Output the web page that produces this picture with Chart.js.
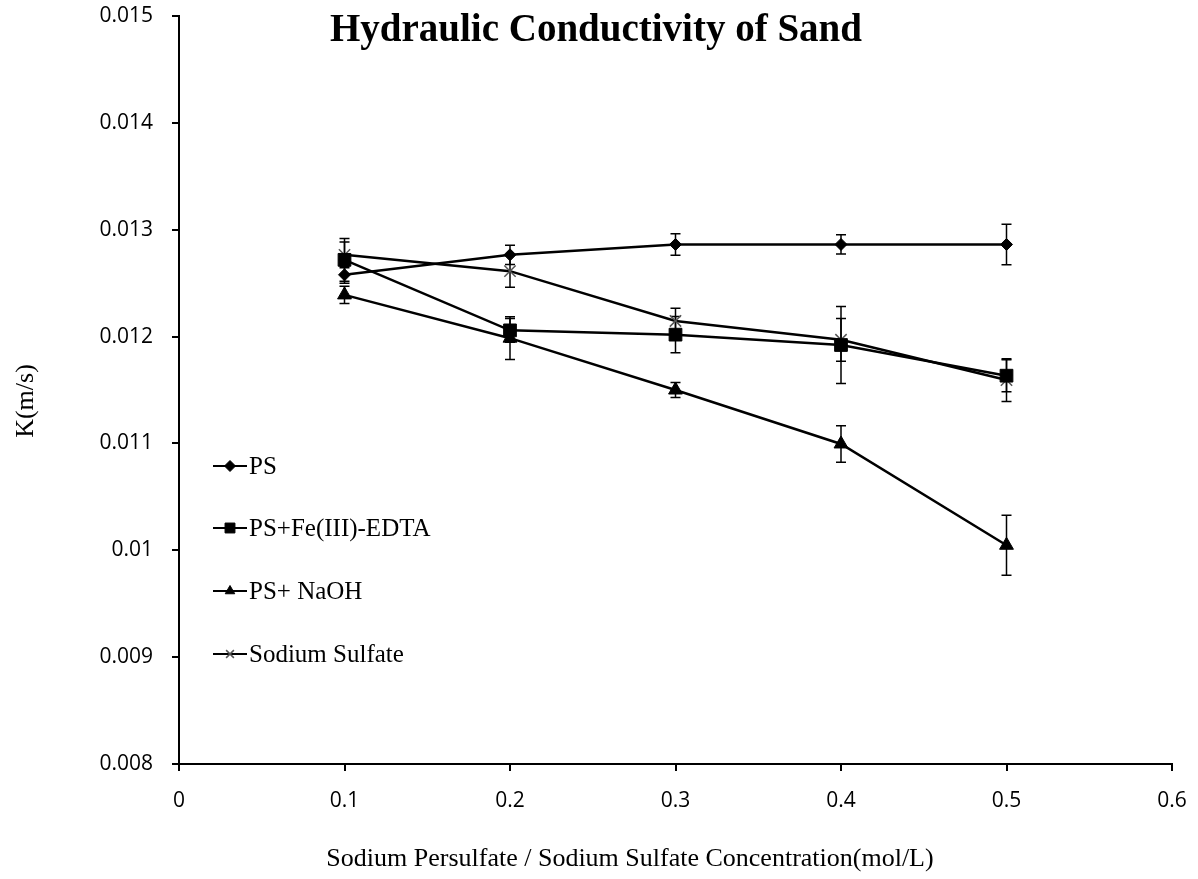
<!DOCTYPE html>
<html>
<head>
<meta charset="utf-8">
<title>Hydraulic Conductivity of Sand</title>
<script src="https://cdn.jsdelivr.net/npm/chart.js@4/dist/chart.umd.min.js"></script>
<style>
  html, body { margin: 0; padding: 0; background: #fff; }
  #wrap { width: 1198px; height: 879px; position: relative; }
</style>
</head>
<body>
<div id="wrap"><canvas id="chart" width="1198" height="879"></canvas></div>
<script>
"use strict";

const concentrations = [0.1, 0.2, 0.3, 0.4, 0.5];
const xTicks = [0, 0.1, 0.2, 0.3, 0.4, 0.5, 0.6];
const yTicks = [0.008, 0.009, 0.01, 0.011, 0.012, 0.013, 0.014, 0.015];

const psValues = [0.012578, 0.012765, 0.012862, 0.012862, 0.012862];
const psErrors = [0.00008, 0.00009, 0.0001, 0.00009, 0.00019];

const feValues = [0.012718, 0.012058, 0.012018, 0.011921, 0.011634];
const feErrors = [0.0002, 0.00011, 0.00017, 0.00036, 0.00015];

const naohValues = [0.01239, 0.011985, 0.0115, 0.010995, 0.010047];
const naohErrors = [0.00008, 0.0002, 0.00007, 0.00017, 0.00028];

const sulfateValues = [0.012765, 0.012612, 0.012146, 0.01197, 0.011593];
const sulfateErrors = [0.00012, 0.00015, 0.00012, 0.0002, 0.0002];

const seriesLabels = ["PS", "PS+Fe(III)-EDTA", "PS+ NaOH", "Sodium Sulfate"];

const serif = "'Liberation Serif', 'Times New Roman', serif";
const sans = "'Open Sans', 'Noto Sans', sans-serif";

function series(label, values, errors, style, radius, color) {
  return {
    label,
    data: concentrations.map((x, i) => ({ x, y: values[i], err: errors[i] })),
    borderColor: "#000",
    borderWidth: 2.5,
    pointStyle: style,
    pointRadius: radius,
    pointHoverRadius: radius,
    pointBackgroundColor: "#000",
    pointBorderColor: color,
    pointBorderWidth: style === "crossRot" ? 1.5 : 1,
    fill: false,
    tension: 0,
  };
}

// vertical error bars with small caps, drawn under the markers
const errorBars = {
  id: "errorBars",
  beforeDatasetsDraw(chart) {
    const { ctx, scales: { x, y } } = chart;
    ctx.save();
    ctx.strokeStyle = "#000";
    ctx.lineWidth = 1.5;
    chart.data.datasets.forEach((ds) => {
      ds.data.forEach((p) => {
        const px = x.getPixelForValue(p.x);
        const top = y.getPixelForValue(p.y + p.err);
        const bot = y.getPixelForValue(p.y - p.err);
        ctx.beginPath();
        ctx.moveTo(px, top);
        ctx.lineTo(px, bot);
        ctx.moveTo(px - 5, top);
        ctx.lineTo(px + 5, top);
        ctx.moveTo(px - 5, bot);
        ctx.lineTo(px + 5, bot);
        ctx.stroke();
      });
    });
    ctx.restore();
  },
};

const extras = {
  id: "extras",
  afterDraw(chart) {
    const { ctx } = chart;
    ctx.save();
    ctx.fillStyle = "#000";

    ctx.font = "bold 39px " + serif;
    ctx.textAlign = "center";
    ctx.textBaseline = "alphabetic";
    ctx.fillText("Hydraulic Conductivity of Sand", 596, 41);

    ctx.font = "26px " + serif;
    ctx.fillText("Sodium Persulfate / Sodium Sulfate Concentration(mol/L)", 630, 866);

    ctx.save();
    ctx.translate(33, 401);
    ctx.rotate(-Math.PI / 2);
    ctx.font = "26px " + serif;
    ctx.fillText("K(m/s)", 0, 0);
    ctx.restore();

    // legend inside the plot
    const rows = [466, 528, 591, 654];
    ctx.textAlign = "left";
    ctx.textBaseline = "middle";
    ctx.font = "25px " + serif;
    chart.data.datasets.forEach((ds, i) => {
      const yy = rows[i];
      ctx.strokeStyle = "#000";
      ctx.lineWidth = 2;
      ctx.beginPath();
      ctx.moveTo(213, yy);
      ctx.lineTo(247, yy);
      ctx.stroke();
      ctx.fillStyle = "#000";
      ctx.strokeStyle = ds.pointBorderColor;
      ctx.lineWidth = ds.pointBorderWidth;
      Chart.helpers.drawPoint(ctx, {
        pointStyle: ds.pointStyle,
        radius: ds.pointStyle === "rect" ? 7 : 5.5,
        rotation: 0,
        borderWidth: ds.pointBorderWidth,
      }, 230, yy);
      ctx.fillStyle = "#000";
      ctx.fillText(seriesLabels[i], 249, yy + 1);
    });
    ctx.restore();
  },
};

new Chart(document.getElementById("chart"), {
  type: "line",
  data: {
    datasets: [
      series(seriesLabels[0], psValues, psErrors, "rectRot", 6, "#000"),
      series(seriesLabels[1], feValues, feErrors, "rect", 9, "#000"),
      series(seriesLabels[2], naohValues, naohErrors, "triangle", 8, "#000"),
      series(seriesLabels[3], sulfateValues, sulfateErrors, "crossRot", 8, "#555"),
    ],
  },
  options: {
    responsive: false,
    animation: false,
    parsing: false,
    layout: { padding: 0 },
    plugins: {
      legend: { display: false },
      title: { display: false },
      tooltip: { enabled: false },
    },
    scales: {
      x: {
        type: "linear",
        min: 0,
        max: 0.6,
        afterFit: (s) => { s.height = 115; s.paddingRight = 26; },
        afterBuildTicks: (s) => {
          s.ticks = xTicks.map((v) => ({ value: v }));
        },
        ticks: {
          color: "#000",
          font: { family: sans, size: 21 },
          padding: 17,
          callback: (v) => (v === 0 ? "0" : String(Math.round(v * 10) / 10)),
        },
        grid: { drawOnChartArea: false, drawTicks: true, tickLength: 7, color: "#000", lineWidth: 2 },
        border: { color: "#000", width: 2 },
      },
      y: {
        type: "linear",
        min: 0.008,
        max: 0.015,
        afterFit: (s) => { s.width = 179; s.paddingTop = 16; },
        afterBuildTicks: (s) => {
          s.ticks = yTicks.map((v) => ({ value: v }));
        },
        ticks: {
          color: "#000",
          font: { family: sans, size: 21 },
          padding: 19,
          callback: (v) => String(Math.round(v * 1000) / 1000),
        },
        grid: { drawOnChartArea: false, drawTicks: true, tickLength: 7, color: "#000", lineWidth: 2 },
        border: { color: "#000", width: 2 },
      },
    },
  },
  plugins: [errorBars, extras],
});
</script>
</body>
</html>
